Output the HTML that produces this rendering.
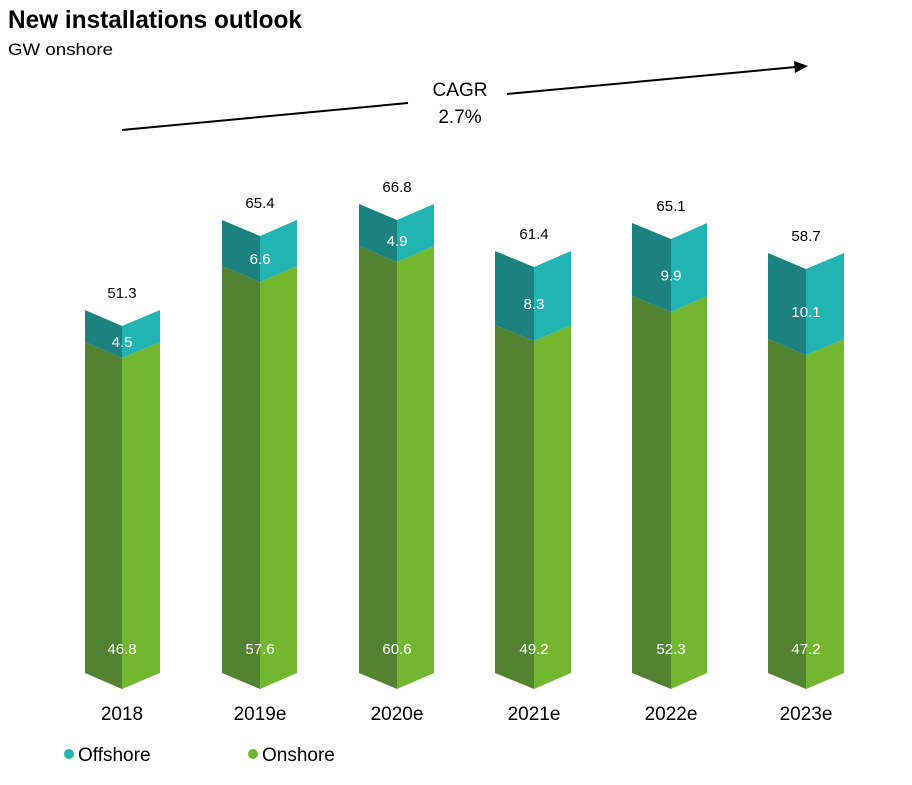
<!DOCTYPE html>
<html><head><meta charset="utf-8"><style>
html,body{margin:0;padding:0;background:#fff;width:912px;height:785px;overflow:hidden}
text{font-family:"Liberation Sans",sans-serif}
</style></head><body>
<svg width="912" height="785" viewBox="0 0 912 785" xmlns="http://www.w3.org/2000/svg">
<text x="8" y="28" font-size="25" font-weight="bold" fill="#000" textLength="294" lengthAdjust="spacingAndGlyphs">New installations outlook</text>
<text x="8" y="55" font-size="17" fill="#000" textLength="105" lengthAdjust="spacingAndGlyphs">GW onshore</text>
<line x1="122" y1="130" x2="408" y2="103" stroke="#000" stroke-width="2"/>
<line x1="507" y1="94" x2="796" y2="67" stroke="#000" stroke-width="2"/>
<polygon points="808,66 794,61 795,73" fill="#000"/>
<text x="460" y="96" font-size="19" text-anchor="middle">CAGR</text>
<text x="460" y="123" font-size="19" text-anchor="middle">2.7%</text>
<g id="bars"></g>
<circle cx="69" cy="754" r="5" fill="#22b3b3"/>
<text x="78" y="761" font-size="19">Offshore</text>
<circle cx="253" cy="754" r="5" fill="#73b730"/>
<text x="262" y="761" font-size="19">Onshore</text>
</svg>
<script>
var B=[[85,122,160,310,342,"51.3","4.5","46.8","2018"],
[222,260,297,220,266,"65.4","6.6","57.6","2019e"],
[359,397,434,204,246,"66.8","4.9","60.6","2020e"],
[495,534,571,251,325,"61.4","8.3","49.2","2021e"],
[632,671,707,223,296,"65.1","9.9","52.3","2022e"],
[768,806,844,253,339,"58.7","10.1","47.2","2023e"]];
var s="",d=16,bot=673;
B.forEach(function(b){var l=b[0],c=b[1],r=b[2],t=b[3],m=b[4];
s+='<polygon fill="#518331" points="'+l+','+m+' '+c+','+(m+d)+' '+c+','+(bot+d)+' '+l+','+bot+'"/>';
s+='<polygon fill="#73b730" points="'+c+','+(m+d)+' '+r+','+m+' '+r+','+bot+' '+c+','+(bot+d)+'"/>';
s+='<polygon fill="#1b827f" points="'+l+','+t+' '+c+','+(t+d)+' '+c+','+(m+d)+' '+l+','+m+'"/>';
s+='<polygon fill="#22b3b3" points="'+c+','+(t+d)+' '+r+','+t+' '+r+','+m+' '+c+','+(m+d)+'"/>';
s+='<text x="'+c+'" y="'+(t-12)+'" font-size="15" text-anchor="middle">'+b[5]+'</text>';
s+='<text x="'+c+'" y="'+((t+m)/2+d+5)+'" font-size="15" fill="#fff" text-anchor="middle">'+b[6]+'</text>';
s+='<text x="'+c+'" y="654" font-size="15" fill="#fff" text-anchor="middle">'+b[7]+'</text>';
s+='<text x="'+c+'" y="720" font-size="19" text-anchor="middle">'+b[8]+'</text>';});
document.getElementById("bars").innerHTML=s;
</script>
</body></html>
